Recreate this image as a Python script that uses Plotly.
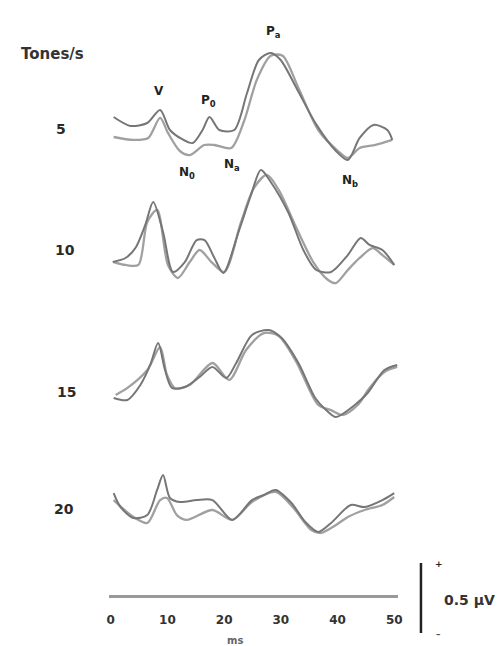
import plotly.graph_objects as go

W, H = 504, 646

# ---- data (time in ms, amplitude in µV relative to each row baseline) ----
rates = ["5", "10", "15", "20"]

r5_a_t = [0.52, 3.48, 6.45, 8.71, 10.45, 12.54, 14.46, 16.2, 17.42, 19.16, 21.78, 24.04, 26.13, 28.22, 29.97, 32.75, 36.24, 39.72, 41.81, 43.9, 46.34, 48.78, 49.65]
r5_a_v = [0.093, 0.029, 0.05, 0.143, 0.0, -0.064, -0.093, 0.0, 0.093, 0.0, 0.0, 0.264, 0.5, 0.55, 0.5, 0.3, 0.04, -0.15, -0.214, -0.057, 0.036, 0.0, -0.071]
r5_b_t = [0.52, 4.0, 6.62, 8.71, 10.1, 12.2, 13.94, 16.5, 18.29, 21.25, 23.52, 25.78, 28.22, 30.31, 33.1, 36.59, 40.07, 41.81, 43.9, 46.69, 49.65]
r5_b_v = [-0.05, -0.071, -0.057, 0.086, -0.021, -0.15, -0.179, -0.107, -0.107, -0.129, 0.064, 0.36, 0.53, 0.53, 0.3, 0.0, -0.15, -0.2, -0.129, -0.107, -0.071]

r10_a_t = [0.35, 2.61, 4.36, 6.1, 7.49, 9.23, 10.98, 13.07, 15.16, 16.55, 18.29, 19.86, 22.65, 24.74, 26.48, 28.22, 31.36, 33.97, 36.24, 38.85, 41.81, 44.08, 45.64, 47.91, 50.0]
r10_a_v = [-0.086, -0.057, 0.014, 0.179, 0.343, 0.129, -0.157, -0.086, 0.071, 0.071, -0.057, -0.164, 0.143, 0.393, 0.571, 0.486, 0.264, 0.0, -0.143, -0.157, -0.036, 0.086, 0.036, 0.0, -0.107]
r10_b_t = [0.52, 2.61, 4.88, 6.45, 8.19, 10.1, 11.85, 13.94, 15.68, 17.77, 20.03, 22.99, 25.26, 27.53, 29.62, 32.75, 35.71, 38.33, 39.72, 41.81, 43.9, 46.17, 47.91, 50.0]
r10_b_v = [-0.086, -0.107, -0.107, 0.2, 0.286, -0.107, -0.2, -0.086, 0.0, -0.086, -0.157, 0.2, 0.443, 0.536, 0.429, 0.157, -0.086, -0.214, -0.236, -0.143, -0.057, 0.014, -0.036, -0.107]

r15_a_t = [0.52, 2.96, 5.23, 6.97, 8.36, 9.58, 10.8, 13.07, 15.68, 17.94, 20.38, 22.13, 24.91, 27.87, 30.14, 33.1, 36.06, 37.98, 39.72, 43.03, 45.3, 48.26, 50.52]
r15_a_v = [-0.043, -0.057, 0.05, 0.193, 0.35, 0.157, 0.029, 0.036, 0.107, 0.179, 0.1, 0.207, 0.407, 0.443, 0.386, 0.207, -0.043, -0.129, -0.179, -0.093, -0.007, 0.157, 0.193]
r15_b_t = [0.87, 2.96, 6.45, 8.71, 9.93, 11.32, 13.94, 17.94, 20.91, 23.87, 27.0, 29.62, 32.75, 36.59, 38.85, 40.94, 43.55, 45.64, 48.26, 50.52]
r15_b_v = [-0.021, 0.029, 0.157, 0.321, 0.121, 0.029, 0.05, 0.207, 0.086, 0.3, 0.421, 0.4, 0.214, -0.093, -0.129, -0.164, -0.093, 0.029, 0.143, 0.179]

r20_a_t = [0.52, 1.74, 4.01, 6.45, 8.19, 9.23, 10.45, 12.2, 15.16, 17.94, 21.43, 24.91, 27.0, 29.09, 31.88, 34.32, 36.59, 38.85, 42.33, 44.77, 47.91, 50.0]
r20_a_v = [0.121, 0.021, -0.057, -0.036, 0.143, 0.25, 0.086, 0.057, 0.071, 0.071, -0.071, 0.071, 0.107, 0.143, 0.05, -0.086, -0.157, -0.093, 0.036, 0.021, 0.071, 0.121]
r20_b_t = [0.52, 4.01, 6.45, 8.71, 9.93, 11.67, 13.41, 17.94, 21.43, 24.91, 29.09, 32.23, 35.37, 37.11, 39.72, 41.81, 44.77, 47.91, 50.0]
r20_b_v = [0.071, -0.05, -0.093, 0.071, 0.086, -0.036, -0.071, 0.0, -0.071, 0.057, 0.129, 0.014, -0.143, -0.164, -0.107, -0.05, 0.0, 0.036, 0.093]

x_ticks = [0, 10, 20, 30, 40, 50]
wave_labels = ["V", "P<sub>0</sub>", "N<sub>0</sub>", "N<sub>a</sub>", "P<sub>a</sub>", "N<sub>b</sub>"]
scale_label = "0.5 µV"

# ---- layout geometry (pixels) ----
PX_PER_MS = 5.74
X0_PX = 110            # pixel of 0 ms
AXIS_PX = 596          # pixel row of time axis line
PX_PER_UV = 140.0
row_base_px = [130, 250, 392, 510]
row_label_px = [(60, 129), (64, 250), (65, 392), (63, 509)]

FONT = "DejaVu Sans, Liberation Sans, Arial, sans-serif"

def px_to_ms(px):
    return (px - X0_PX) / PX_PER_MS

def base_uv(py):
    return (AXIS_PX - py) / PX_PER_UV

def paper_x(px):
    return px / W

def paper_y(py):
    return 1 - py / H

dom0, dom1 = 108, 401
x_range = [px_to_ms(dom0), px_to_ms(dom1)]
y_range = [(AXIS_PX - H) / PX_PER_UV, AXIS_PX / PX_PER_UV]

fig = go.Figure()

rows = [
    (r5_a_t, r5_a_v, r5_b_t, r5_b_v),
    (r10_a_t, r10_a_v, r10_b_t, r10_b_v),
    (r15_a_t, r15_a_v, r15_b_t, r15_b_v),
    (r20_a_t, r20_a_v, r20_b_t, r20_b_v),
]
for i, (ta, va, tb, vb) in enumerate(rows):
    off = base_uv(row_base_px[i])
    fig.add_trace(go.Scatter(x=tb, y=[v + off for v in vb], mode="lines",
                             line=dict(color="#a0a0a0", width=2.3, shape="spline", smoothing=0.8),
                             showlegend=False, hoverinfo="skip"))
    fig.add_trace(go.Scatter(x=ta, y=[v + off for v in va], mode="lines",
                             line=dict(color="#767676", width=2.0, shape="spline", smoothing=0.8),
                             showlegend=False, hoverinfo="skip"))

annotations = []

def ann(px, py, text, size, color="#222", xanchor="center"):
    annotations.append(dict(x=paper_x(px), y=paper_y(py), xref="paper", yref="paper",
                            text=text, showarrow=False, xanchor=xanchor, yanchor="middle",
                            font=dict(family=FONT, size=size, color=color, weight="bold")))

ann(51, 54, "Tones/s", 15, "#333")
for lab, (px, py) in zip(rates, row_label_px):
    ann(px, py, lab, 14, "#2a2a2a")

wave_pos = [(159, 91), (209, 101), (187, 173), (233, 165), (274, 32), (352, 181)]
for lab, (px, py) in zip(wave_labels, wave_pos):
    ann(px, py, lab, 12, "#222")

ann(236, 640, "ms", 10, "#666")
ann(445, 600, scale_label, 14, "#333", xanchor="left")
ann(442, 564, "+", 9, "#222")
ann(442, 634, "–", 9, "#555")

shapes = [dict(type="line", xref="paper", yref="paper",
               x0=paper_x(424), x1=paper_x(424), y0=paper_y(563), y1=paper_y(633),
               line=dict(color="#222", width=2.5))]

fig.update_layout(
    width=W, height=H,
    margin=dict(l=0, r=0, t=0, b=0),
    paper_bgcolor="white", plot_bgcolor="white",
    annotations=annotations, shapes=shapes,
    xaxis=dict(domain=[dom0 / W, dom1 / W], range=x_range, anchor="free",
               position=(H - AXIS_PX) / H,
               tickvals=x_ticks, ticktext=[str(t) for t in x_ticks],
               tickfont=dict(family=FONT, size=12, color="#333", weight="bold"),
               showline=True, linecolor="#999", linewidth=2.5,
               ticks="", ticklabelstandoff=12,
               showgrid=False, zeroline=False),
    yaxis=dict(domain=[0, 1], range=y_range, visible=False, showgrid=False, zeroline=False),
)

fig.write_html("out.html")
